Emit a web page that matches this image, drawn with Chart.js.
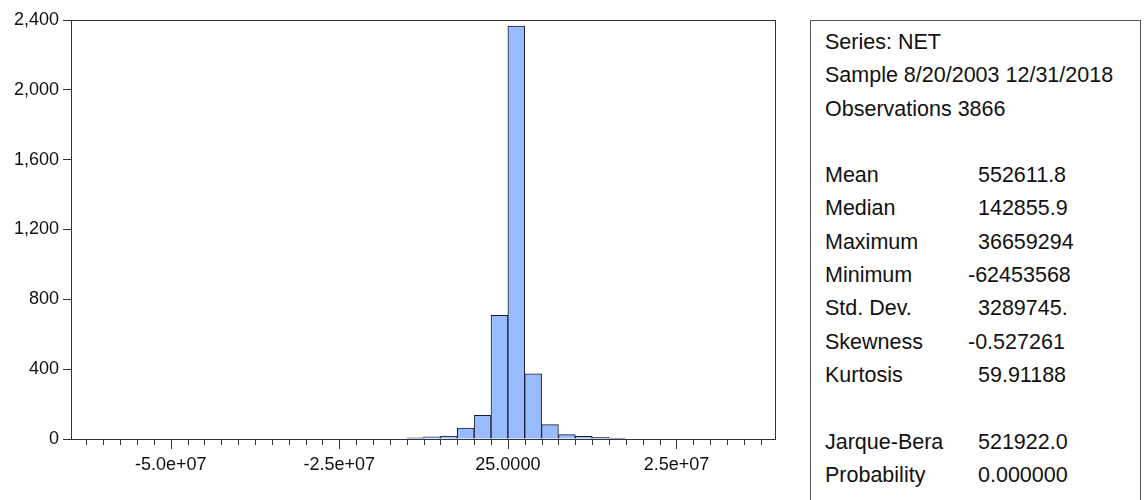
<!DOCTYPE html>
<html>
<head>
<meta charset="utf-8">
<script src="https://cdn.jsdelivr.net/npm/chart.js@4.4.1/dist/chart.umd.min.js"></script>
<style>
  body { margin: 0; background: #fff; width: 1146px; height: 500px; overflow: hidden; position: relative;
         font-family: "Liberation Sans", Arial, sans-serif; }
  #wrap { position: absolute; left: 0; top: 0; width: 800px; height: 500px; }
  #stats { position: absolute; left: 810px; top: 20px; width: 331px; height: 500px; box-sizing: border-box;
           border: 1px solid #555; color: #111; font-size: 21.5px; padding-top: 5px; }
  #stats .row { position: relative; height: 33.3px; line-height: 33.3px; white-space: nowrap; }
  #stats .lab { position: absolute; left: 14px; }
  #stats .val { position: absolute; left: 167px; }
</style>
</head>
<body>
<div id="wrap"><canvas id="hist" width="800" height="500"></canvas></div>
<div id="stats"></div>
<script>
// histogram bins: 2.5e6 wide, first bin starts at -6.25e7
const binStart = -62500000;
const binWidth = 2500000;
const counts = [
  0, 0, 0, 0, 0, 0, 0, 0, 0, 0,
  0, 0, 0, 0, 0, 0, 0, 0, 0, 6,
  12, 17, 63, 136, 708, 2365, 373, 82, 25, 15,
  10, 5, 0, 0, 0, 0, 0, 0, 0, 0,
];

const yTicks = [0, 400, 800, 1200, 1600, 2000, 2400];
const xMajorTicks = [-50000000, -25000000, 0, 25000000];
const xMajorLabels = ['-5.0e+07', '-2.5e+07', '25.0000', '2.5e+07'];

const headerLines = ['Series: NET', 'Sample 8/20/2003 12/31/2018', 'Observations 3866'];
const statNames = ['Mean', 'Median', 'Maximum', 'Minimum', 'Std. Dev.', 'Skewness', 'Kurtosis'];
const statValues = ['552611.8', '142855.9', '36659294', '-62453568', '3289745.', '-0.527261', '59.91188'];
const testNames = ['Jarque-Bera', 'Probability'];
const testValues = ['521922.0', '0.000000'];

// stats panel
const stats = document.getElementById('stats');
function addRow(label, value) {
  const row = document.createElement('div');
  row.className = 'row';
  if (label) {
    const l = document.createElement('span');
    l.className = 'lab';
    l.textContent = label;
    row.appendChild(l);
  }
  if (value) {
    const v = document.createElement('span');
    v.className = 'val';
    v.textContent = value;
    if (value.startsWith('-')) v.style.left = '157px';
    row.appendChild(v);
  }
  stats.appendChild(row);
}
headerLines.forEach((h) => addRow(h));
addRow();
statNames.forEach((n, i) => addRow(n, statValues[i]));
addRow();
testNames.forEach((n, i) => addRow(n, testValues[i]));

// chart
const points = counts.map((c, i) => ({ x: binStart + (i + 0.5) * binWidth, y: c }));
const xTickValues = [];
for (let i = 0; i <= counts.length; i++) xTickValues.push(binStart + i * binWidth);

const frameAndTicks = {
  id: 'frameAndTicks',
  afterDraw(chart) {
    const { ctx, chartArea, scales: { x } } = chart;
    ctx.save();
    ctx.strokeStyle = '#333';
    ctx.lineWidth = 1;
    ctx.strokeRect(chartArea.left + 0.5, chartArea.top + 0.5, chartArea.right - chartArea.left, chartArea.bottom - chartArea.top);
    xTickValues.forEach((v) => {
      const px = Math.round(x.getPixelForValue(v)) + 0.5;
      const len = xMajorTicks.includes(v) ? 10 : 6;
      ctx.beginPath();
      ctx.moveTo(px, chartArea.bottom);
      ctx.lineTo(px, chartArea.bottom + len);
      ctx.stroke();
    });
    ctx.restore();
  },
};

new Chart(document.getElementById('hist'), {
  type: 'bar',
  data: {
    datasets: [{
      data: points,
      backgroundColor: '#99bbff',
      borderColor: '#1c1c28',
      borderWidth: 1,
      barPercentage: 1,
      categoryPercentage: 1,
    }],
  },
  options: {
    responsive: false,
    animation: false,
    devicePixelRatio: 1,
    layout: { padding: { top: 20, right: 25, left: 0, bottom: 0 } },
    plugins: { legend: { display: false }, tooltip: { enabled: false } },
    scales: {
      x: {
        type: 'linear',
        min: -63510000,
        max: 38340000,
        afterBuildTicks: (s) => { s.ticks = xTickValues.map((v) => ({ value: v })); },
        afterFit: (s) => { s.height = 61; },
        grid: { display: false, drawTicks: false },
        border: { display: false },
        ticks: {
          autoSkip: false, maxRotation: 0, minRotation: 0, padding: 15,
          color: '#111', font: { family: 'Liberation Sans', size: 18 },
          callback: (v) => { const k = xMajorTicks.indexOf(v); return k >= 0 ? xMajorLabels[k] : ''; },
        },
      },
      y: {
        min: 0,
        max: 2400,
        afterBuildTicks: (s) => { s.ticks = yTicks.map((v) => ({ value: v })); },
        afterFit: (s) => { s.width = 71; },
        grid: { drawOnChartArea: false, tickLength: 8, color: '#333' },
        border: { display: false },
        ticks: {
          padding: 4, color: '#111', font: { family: 'Liberation Sans', size: 18 },
          callback: (v) => v.toLocaleString('en-US'),
        },
      },
    },
  },
  plugins: [frameAndTicks],
});
</script>
</body>
</html>
